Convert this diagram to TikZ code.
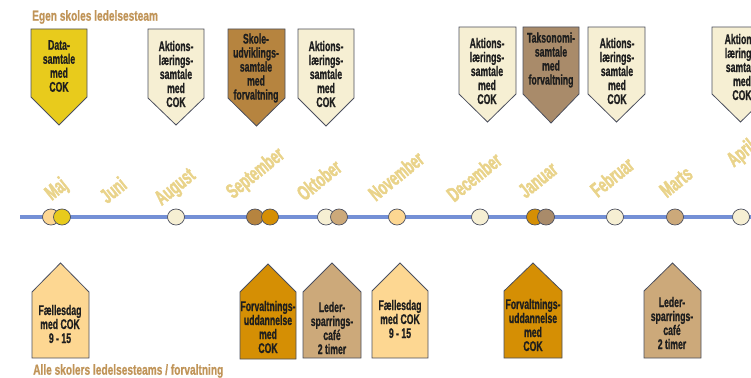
\documentclass[tikz,border=0pt]{standalone}
\usepackage{fontspec}
\setmainfont{Liberation Sans}
\newfontfamily\cond[FakeStretch=0.62, FakeBold=0.8]{Liberation Sans Bold}
\newfontfamily\condh[FakeStretch=0.7, FakeBold=0.8]{Liberation Sans Bold}
\newfontfamily\condm[FakeStretch=0.62, FakeBold=2]{Liberation Sans Bold}
\definecolor{cyellow}{HTML}{E8CB1C}
\definecolor{ccream}{HTML}{F6EFD3}
\definecolor{cbrown}{HTML}{B6843F}
\definecolor{ctaupe}{HTML}{A98B6A}
\definecolor{clorange}{HTML}{FDD792}
\definecolor{corange}{HTML}{D58F04}
\definecolor{ctan}{HTML}{CCA97A}
\definecolor{cmonth}{HTML}{E9D38A}
\definecolor{chead}{HTML}{C09458}
\definecolor{cline}{HTML}{7490D6}
\definecolor{cborder}{HTML}{4B4F5E}
\definecolor{ctext}{HTML}{1E1E1E}
\tikzset{
  boxshape/.style={draw=cborder, line width=0.8pt, line join=miter},
  boxtext/.style={align=center, text=ctext, inner sep=0pt, font=\cond\fontsize{14}{14}\selectfont},
  monthlabel/.style={rotate=39, text=cmonth, inner sep=0pt, font=\condm\fontsize{21}{22}\selectfont},
  headlabel/.style={text=chead, inner sep=0pt, anchor=west, font=\condh\fontsize{14.5}{15}\selectfont},
  dot/.style={draw=cborder, line width=0.7pt, ellipse, minimum width=17pt, minimum height=16pt, inner sep=0pt},
}
\usetikzlibrary{shapes.geometric}
\newcommand{\downbox}[6]{% left, right, top, sidebottom, tip, fill
  \draw[boxshape, fill=#6] (#1,#3) -- (#2,#3) -- (#2,#4) -- ({(#1+#2)/2},#5) -- (#1,#4) -- cycle;}
\newcommand{\upbox}[6]{% left, right, apex, shoulder, bottom, fill
  \draw[boxshape, fill=#6] (#1,#5) -- (#1,#4) -- ({(#1+#2)/2},#3) -- (#2,#4) -- (#2,#5) -- cycle;}
\begin{document}
\begin{tikzpicture}[x=1pt,y=-1pt]
\useasboundingbox (0,0) rectangle (751,377);
% headings
\node[headlabel] (h1) at (32,17) {Egen skoles ledelsesteam};
\node[headlabel] (h2) at (33,371) {Alle skolers ledelsesteams / forvaltning};
% top boxes
\downbox{31}{87}{29}{97}{125}{cyellow}
\downbox{148}{204}{29}{98}{125}{ccream}
\downbox{228}{285}{29}{98}{126}{cbrown}
\downbox{298}{354}{29}{98}{126}{ccream}
\downbox{459}{516}{27}{94}{122}{ccream}
\downbox{523}{579}{27}{94}{123}{ctaupe}
\downbox{588}{645}{27}{94}{122}{ccream}
\downbox{712}{769}{27}{94}{122}{ccream}
\node[boxtext] (t1) at (59,66) {Data-\\samtale\\med\\COK};
\node[boxtext] (t2) at (176,74) {Aktions-\\lærings-\\samtale\\med\\COK};
\node[boxtext] (t3) at (256,68) {Skole-\\udviklings-\\samtale\\med\\forvaltning};
\node[boxtext] (t4) at (326,74) {Aktions-\\lærings-\\samtale\\med\\COK};
\node[boxtext] (t5) at (487,71) {Aktions-\\lærings-\\samtale\\med\\COK};
\node[boxtext] (t6) at (551,60) {Taksonomi-\\samtale\\med\\forvaltning};
\node[boxtext] (t7) at (617,71) {Aktions-\\lærings-\\samtale\\med\\COK};
\node[boxtext] (t8) at (742,67) {Aktions-\\lærings-\\samtale\\med\\COK};
% bottom boxes
\upbox{32}{89}{263}{292}{358}{clorange}
\upbox{240}{296}{264}{292}{359}{corange}
\upbox{303}{361}{263}{292}{358}{ctan}
\upbox{372}{428}{263}{291}{358}{clorange}
\upbox{504}{562}{263}{291}{358}{corange}
\upbox{644}{701}{263}{291}{358}{ctan}
\node[boxtext] (u1) at (60,324) {Fællesdag\\med COK\\9 - 15};
\node[boxtext] (u2) at (268,327) {Forvaltnings-\\uddannelse\\med\\COK};
\node[boxtext] (u3) at (332,328) {Leder-\\sparrings-\\café\\2 timer};
\node[boxtext] (u4) at (400,319) {Fællesdag\\med COK\\9 - 15};
\node[boxtext] (u5) at (533,325) {Forvaltnings-\\uddannelse\\med\\COK};
\node[boxtext] (u6) at (672,323) {Leder-\\sparrings-\\café\\2 timer};
% months
\node[monthlabel] (m1) at (57,190) {Maj};
\node[monthlabel] (m2) at (113,190) {Juni};
\node[monthlabel] (m3) at (176,188) {August};
\node[monthlabel] (m4) at (256,174) {September};
\node[monthlabel] (m5) at (319,180) {Oktober};
\node[monthlabel] (m6) at (396,176) {November};
\node[monthlabel] (m7) at (474,177) {December};
\node[monthlabel] (m8) at (538,180) {Januar};
\node[monthlabel] (m9) at (612,177) {Februar};
\node[monthlabel] (m10) at (676,182) {Marts};
\node[monthlabel] (m11) at (742,154) {April};
% timeline
\coordinate (ls) at (20,217);
\coordinate (le) at (751,217);
\draw[cline, line width=4.5pt] (ls) -- (le);
% dots
\node[dot, fill=clorange] (d1) at (51,217) {};
\node[dot, fill=cyellow] (d2) at (62,217) {};
\node[dot, fill=ccream] (d3) at (176,217) {};
\node[dot, fill=cbrown] (d4) at (255,217) {};
\node[dot, fill=corange] (d5) at (270,217) {};
\node[dot, fill=ccream] (d6) at (326,217) {};
\node[dot, fill=ctan] (d7) at (339,217) {};
\node[dot, fill=clorange] (d8) at (397,217) {};
\node[dot, fill=ccream] (d9) at (480,217) {};
\node[dot, fill=corange] (d10) at (535,217) {};
\node[dot, fill=ctaupe] (d11) at (546,217) {};
\node[dot, fill=ccream] (d12) at (615,217) {};
\node[dot, fill=ctan] (d13) at (675,217) {};
\node[dot, fill=ccream] (d14) at (741,217) {};
\end{tikzpicture}
\end{document}
